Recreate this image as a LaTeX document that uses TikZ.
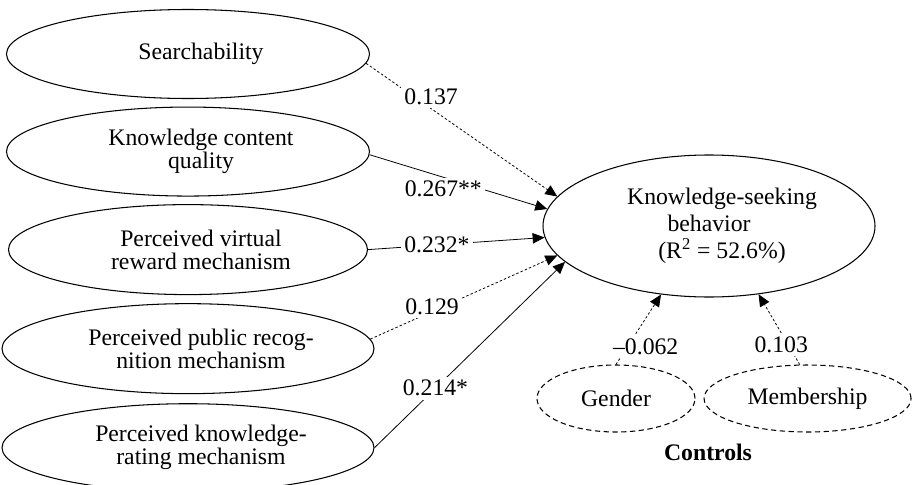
\documentclass[tikz,border=0pt]{standalone}
\usepackage{fontspec}
\setmainfont{Liberation Serif}
\usepackage{tikz}
\usetikzlibrary{arrows.meta,positioning,shapes.geometric}
\newcommand{\ind}{\hspace*{5.2mm}}
\tikzset{
  factor/.style={
    ellipse,
    draw,
    line width=0.6pt,
    inner sep=0pt,
    align=center,
    minimum width=7.26cm,
    minimum height=1.78cm,
    font=\fontsize{13.5}{13}\selectfont
  },
  control/.style={
    factor,
    dash pattern=on 3pt off 2pt,
    minimum height=1.34cm
  },
  coef/.style={
    fill=white,
    inner sep=2pt,
    font=\fontsize{13.5}{13}\selectfont
  },
  arrow/.style={-{Triangle[length=2.4mm,width=2.1mm]}, line width=0.45pt},
  dotarrow/.style={-{Triangle[length=2.4mm,width=2.1mm]}, line width=0.45pt, dash pattern=on 1.4pt off 1.2pt}
}

\begin{document}
\begin{tikzpicture}[node distance=1.5mm]
  \useasboundingbox (0,0) rectangle (18.24,-9.70);

  \node[factor] (search) at (3.76,-1.08) {\ind Searchability};
  \node[factor, below=of search] (quality) {\ind Knowledge content\\ \ind quality};
  \node[factor, minimum width=7.18cm, minimum height=1.8cm, below=of quality] (reward) {\ind Perceived virtual\\ \ind reward mechanism};
  \node[factor, minimum width=7.44cm, minimum height=1.8cm, below=1.6mm of reward] (recog) {\ind Perceived public recog-\\ \ind nition mechanism};
  \node[factor, minimum width=7.44cm, minimum height=1.76cm, below=1.8mm of recog] (rating) {\ind Perceived knowledge-\\ \ind rating mechanism};

  \node[factor, minimum width=6.64cm, minimum height=2.84cm, font=\fontsize{13.5}{15.3}\selectfont] (ksb) at (14.18,-4.52) {\ind Knowledge-seeking\\ behavior\\ \ind (R\textsuperscript{2} = 52.6\%)};

  \node[control, minimum width=3.16cm] (gender) at (12.32,-7.97) {Gender};
  \node[control, minimum width=4.14cm, right=1.6mm of gender] (member) {Membership};
  \node[font=\fontsize{13.5}{13}\selectfont\bfseries] (controls) at (14.16,-9.04) {Controls};

  \draw[dotarrow] (search.-3) -- node[coef, pos=.34, yshift=2.4mm] {0.137} (ksb.169);
  \draw[arrow] (quality.-1) -- node[coef, pos=.415, yshift=-2.4mm] {0.267**} (ksb.174);
  \draw[arrow] (reward.east) -- node[coef, pos=.39] {0.232*} (ksb.184);
  \draw[dotarrow] (recog.3) -- node[coef, pos=.33, yshift=1mm] {0.129} (ksb.191);
  \draw[arrow] (rating.east) -- node[coef, pos=.32] {0.214*} (ksb.194);
  \draw[dotarrow] (gender.north) -- node[coef, pos=.26, xshift=3.6mm] {--0.062} (ksb.235);
  \draw[dotarrow] (member.103) -- node[coef, pos=.28, xshift=-1.4mm] {0.103} (ksb.306);
\end{tikzpicture}
\end{document}
